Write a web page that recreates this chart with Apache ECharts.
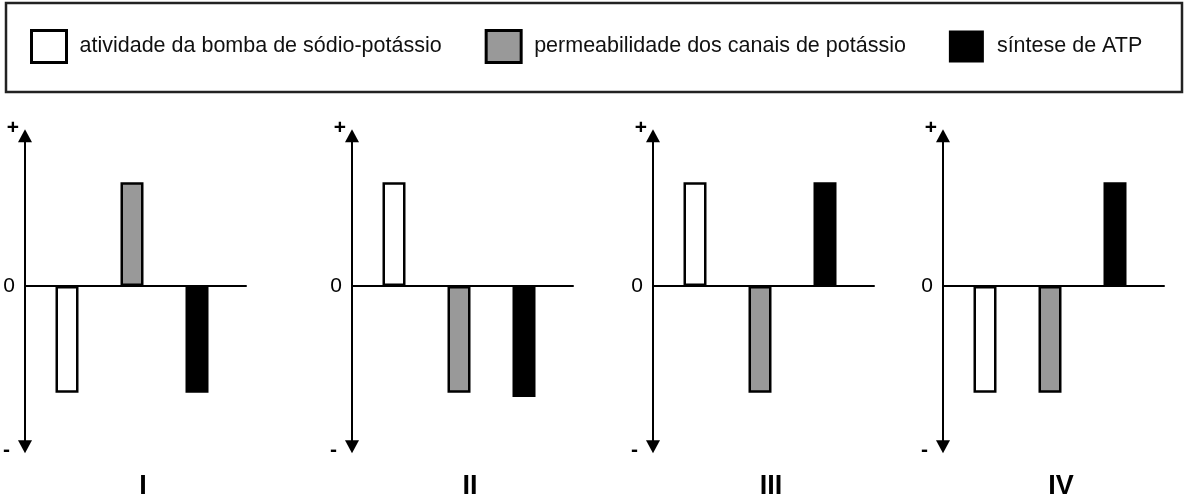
<!DOCTYPE html>
<html>
<head>
<meta charset="utf-8">
<script src="https://cdn.jsdelivr.net/npm/echarts@6/dist/echarts.min.js"></script>
<style>
html, body { margin: 0; padding: 0; background: #fff; }
#chart { width: 1184px; height: 499px; }
</style>
</head>
<body>
<div id="chart"></div>
<script>
// dados (escala qualitativa: + / 0 / -)
const panels = ['I', 'II', 'III', 'IV'];
const seriesNames = [
  'atividade da bomba de sódio-potássio',
  'permeabilidade dos canais de potássio',
  'síntese de ATP'
];
const bomba = [-1.03, 1, 1, -1.03];
const canais = [1, -1.03, -1.03, -1.03];
const atp = [-1.03, -1.07, 1, 1];
const yTicks = [-1.55, 0, 1.45];
const yTickLabels = ['-', '0', '+'];

const values = [bomba, canais, atp];
const fills = ['#ffffff', '#999999', '#000000'];
const font = 'Liberation Sans, Arial, sans-serif';

// posição do eixo vertical de cada painel
const axisX = [25, 352, 653, 943];
const gridTop = 135.7, gridHeight = 311;

let myChart = echarts.init(document.getElementById('chart'));

const grid = [], xAxis = [], yAxis = [], series = [];

// grids 0-3: eixos com setas; grids 4-7: barras
axisX.forEach((ax, p) => {
  grid.push({ left: ax, width: 221, top: gridTop, height: gridHeight });
});
axisX.forEach((ax, p) => {
  grid.push({ left: ax + 9.5, width: 195, top: gridTop, height: gridHeight });
});

axisX.forEach((ax, p) => {
  xAxis.push({
    gridIndex: p, type: 'value', min: 0, max: 1,
    axisLine: { show: true, onZero: true, lineStyle: { color: '#000', width: 2 } },
    axisTick: { show: false }, axisLabel: { show: false }, splitLine: { show: false }
  });
  yAxis.push({
    gridIndex: p, type: 'value', min: -1.55, max: 1.45,
    axisLine: {
      show: true, onZero: false,
      symbol: ['triangle', 'triangle'], symbolSize: [14, 13],
      lineStyle: { color: '#000', width: 2 }
    },
    axisTick: { show: false },
    splitLine: { show: false },
    axisLabel: {
      customValues: yTicks,
      margin: 6,
      color: '#000',
      fontFamily: font,
      fontSize: 21,
      formatter: v => {
        const i = yTicks.findIndex(t => Math.abs(t - v) < 1e-6);
        if (i < 0) return '';
        const key = ['m', 'z', 'p'][i];
        return '{' + key + '|' + yTickLabels[i] + '}';
      },
      rich: {
        p: { fontFamily: font, fontSize: 21, fontWeight: 'bold', color: '#000', padding: [0, 0, 14, 0] },
        z: { fontFamily: font, fontSize: 21, color: '#000', padding: [0, 4, 0, 0] },
        m: { fontFamily: font, fontSize: 21, fontWeight: 'bold', color: '#000', padding: [7, 9, 0, 0] }
      }
    }
  });
});

axisX.forEach((ax, p) => {
  xAxis.push({
    gridIndex: 4 + p, type: 'category', data: ['a', 'b', 'c'], show: false
  });
  yAxis.push({
    gridIndex: 4 + p, type: 'value', min: -1.55, max: 1.45, show: false
  });
});

panels.forEach((name, p) => {
  values.forEach((vals, v) => {
    series.push({
      type: 'bar',
      name: seriesNames[v],
      xAxisIndex: 4 + p,
      yAxisIndex: 4 + p,
      barWidth: 23,
      barGap: '-100%',
      data: [0, 1, 2].map(k => (k === v ? vals[p] : '-')),
      itemStyle: { color: fills[v], borderColor: '#000', borderWidth: 2.5 },
      silent: true
    });
  });
});

let option = {
  backgroundColor: '#fff',
  animation: false,
  grid: grid,
  xAxis: xAxis,
  yAxis: yAxis,
  legend: {
    left: 30,
    top: 29,
    padding: 0,
    itemGap: 43,
    itemWidth: 35,
    itemHeight: 32,
    icon: 'rect',
    selectedMode: false,
    textStyle: { fontFamily: font, fontSize: 21.5, color: '#111', padding: [0, 0, 0, 8] },
    data: seriesNames.map((n, i) => ({
      name: n,
      itemStyle: { color: fills[i], borderColor: '#000', borderWidth: i === 2 ? 0 : 3 }
    }))
  },
  graphic: [
    {
      type: 'rect', silent: true,
      shape: { x: 6, y: 3, width: 1176, height: 89 },
      style: { fill: 'none', stroke: '#222', lineWidth: 2.5 }
    }
  ].concat(panels.map((t, p) => ({
    type: 'text', silent: true,
    x: axisX[p] + 118, y: 487,
    style: {
      text: t, align: 'center', verticalAlign: 'middle',
      fontFamily: font, fontSize: 27, fontWeight: 'bold', fill: '#000'
    }
  }))),
  series: series
};
myChart.setOption(option);
</script>
</body>
</html>
